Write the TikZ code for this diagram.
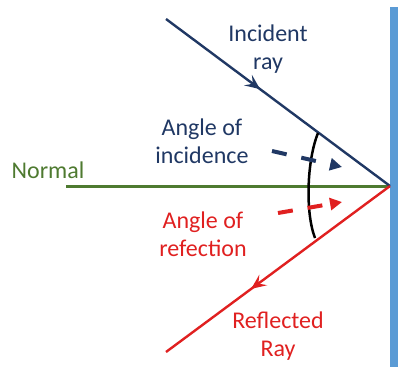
\documentclass[tikz,border=0pt]{standalone}
\usepackage{fontspec}
\setmainfont{Carlito}
\usepackage{xcolor}
\usetikzlibrary{arrows.meta,decorations.markings}
\definecolor{rayblue}{HTML}{203864}
\definecolor{rayred}{HTML}{E02020}
\definecolor{normgreen}{HTML}{4E7A30}
\definecolor{mirror}{HTML}{5B9BD5}
\tikzset{
  ray/.style={line width=2.4pt},
  midarrow/.style={postaction={decorate,decoration={markings,
      mark=at position #1 with {\arrow{Stealth[length=15pt,width=13pt,inset=6pt]}}}}},
  label/.style={align=center,font=\fontsize{24}{28}\selectfont},
  dasharrow/.style={line width=4pt,dash pattern=on 15pt off 15pt,
      -{Triangle[length=12pt,width=12pt]}}
}
\begin{document}
\begin{tikzpicture}[x=1pt,y=-1pt]
\useasboundingbox (0,0) rectangle (398,372);
% mirror
\fill[mirror] (390,7) rectangle (398,367);
\coordinate (O) at (390,186);
\coordinate (A) at (166,19);
\coordinate (B) at (166,352);
\coordinate (N) at (66,186);
% normal and rays
\draw[normgreen,line width=3pt] (N)--(O);
\draw[ray,rayblue,midarrow=0.42] (A)--(O);
\draw[ray,rayred,midarrow=0.62] (O)--(B);
% angle arc
\coordinate (arcTop) at (318,133);
\coordinate (arcBot) at (315,238);
\draw[line width=2.5pt] (arcTop) .. controls (307,160) and (305,212) .. (arcBot);
% dashed pointers
\coordinate (bs) at (272,151);
\coordinate (be) at (342,167);
\coordinate (rs) at (278,213);
\coordinate (re) at (342,202);
\draw[dasharrow,rayblue] (bs)--(be);
\draw[dasharrow,rayred] (rs)--(re);
% labels
\node[label,rayblue] (inc) at (268,49) {Incident\\ray};
\node[label,rayblue] (aoi) at (202,141) {Angle of\\incidence};
\node[label,normgreen] (nrm) at (48,170) {Normal};
\node[label,rayred] (aor) at (203,234) {Angle of\\refection};
\node[label,rayred] (refl) at (278,336) {Reflected\\Ray};
\end{tikzpicture}
\end{document}
